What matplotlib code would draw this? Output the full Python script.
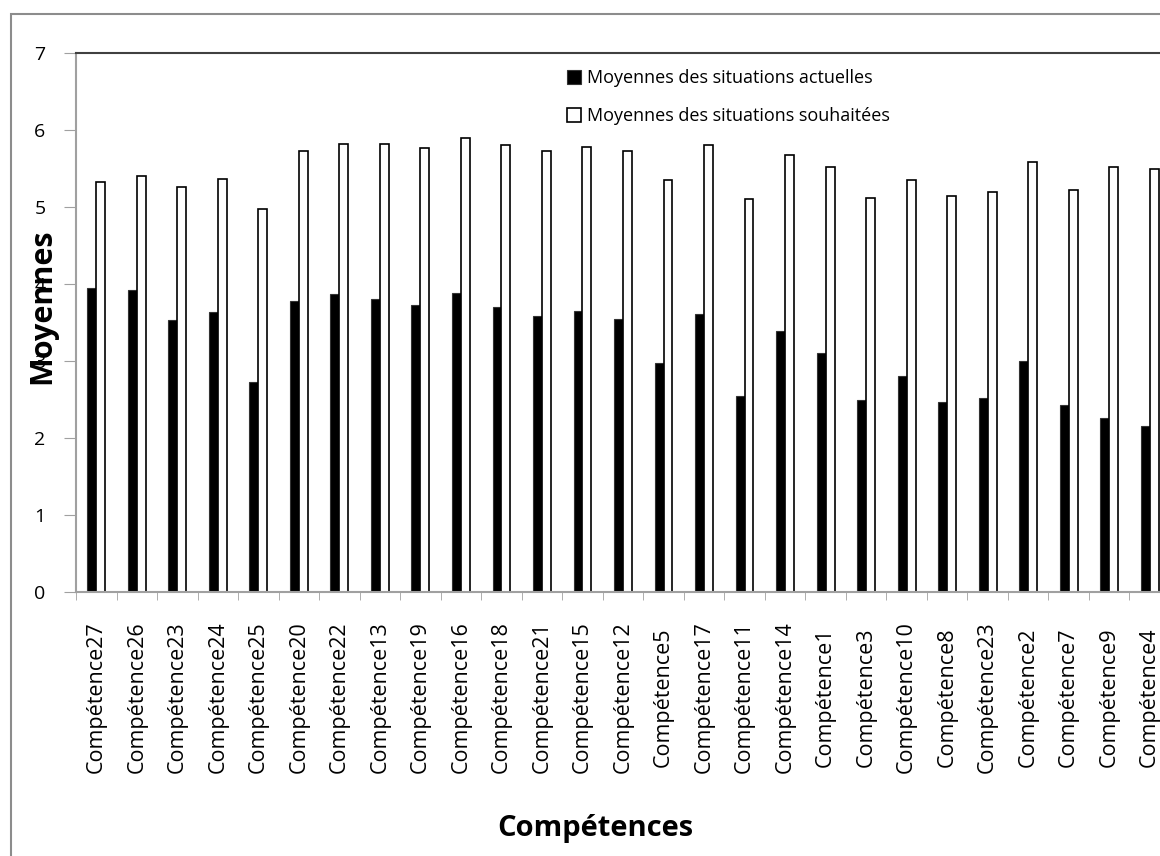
import numpy as np
import matplotlib.pyplot as plt
from matplotlib.patches import Rectangle

plt.rcParams['font.family'] = ['Open Sans', 'DejaVu Sans']

competences = ['Compétence27', 'Compétence26', 'Compétence23', 'Compétence24', 'Compétence25',
               'Compétence20', 'Compétence22', 'Compétence13', 'Compétence19', 'Compétence16',
               'Compétence18', 'Compétence21', 'Compétence15', 'Compétence12', 'Compétence5',
               'Compétence17', 'Compétence11', 'Compétence14', 'Compétence1', 'Compétence3',
               'Compétence10', 'Compétence8', 'Compétence23', 'Compétence2', 'Compétence7',
               'Compétence9', 'Compétence4']
actuelles = [3.95, 3.92, 3.53, 3.63, 2.73, 3.78, 3.87, 3.81, 3.73, 3.88,
             3.70, 3.58, 3.65, 3.54, 2.98, 3.61, 2.55, 3.39, 3.11, 2.49,
             2.81, 2.47, 2.52, 3.00, 2.43, 2.26, 2.16]
souhaitees = [5.33, 5.40, 5.26, 5.36, 4.97, 5.73, 5.82, 5.82, 5.76, 5.90,
              5.81, 5.73, 5.78, 5.73, 5.35, 5.80, 5.10, 5.67, 5.52, 5.12,
              5.35, 5.14, 5.19, 5.59, 5.22, 5.52, 5.50]

fig = plt.figure(figsize=(11.6, 8.56), dpi=100)
# cadre du graphique (coupé à droite et en bas)
fig.patches.append(Rectangle((11 / 1160, -0.1), 1.2, 1 - 14 / 856 + 0.1,
                             transform=fig.transFigure, fill=False,
                             edgecolor='#8c8c8c', linewidth=1.5))

ax = fig.add_axes([76 / 1160, 1 - 592 / 856, 1094 / 1160, 539 / 856])
x = np.arange(len(competences)) + 0.5
w = 0.22
ax.bar(x - w / 2, actuelles, w, color='black', edgecolor='#333333', linewidth=0.8,
       label='Moyennes des situations actuelles')
ax.bar(x + w / 2, souhaitees, w, color='white', edgecolor='black', linewidth=1.2,
       label='Moyennes des situations souhaitées')

ax.set_xlim(0, len(competences))
ax.set_ylim(0, 7)
ax.set_yticks(range(8))
ax.tick_params(axis='y', length=9, color='#a0a0a0', pad=13, labelsize=14)

ax.set_xticks(x)
ax.set_xticklabels(competences, rotation=90, fontsize=15.5)
ax.set_xticks(np.arange(len(competences) + 1), minor=True)
ax.tick_params(axis='x', which='major', length=0, pad=76)
ax.tick_params(axis='x', which='minor', length=6, color='#a0a0a0')
plt.setp(ax.get_xticklabels(), va='center')

ax.spines['right'].set_visible(False)
ax.spines['top'].set_color('#404040')
ax.spines['top'].set_linewidth(1.5)
ax.spines['left'].set_color('#a0a0a0')
ax.spines['left'].set_linewidth(1.5)
ax.spines['bottom'].set_color('#a0a0a0')
ax.spines['bottom'].set_linewidth(1.5)

ax.set_ylabel('Moyennes', fontsize=22, fontweight='bold', va='center')
ax.yaxis.set_label_coords(-0.031, 0.53)
ax.set_xlabel('Compétences', fontsize=21, fontweight='bold')
ax.xaxis.set_label_coords(0.475, -0.438)
ax.xaxis.label.set_va('center')

ax.legend(loc='upper left', bbox_to_anchor=(0.434, 1.0), frameon=False, fontsize=13,
          handlelength=0.8, handleheight=0.8, handletextpad=0.3, labelspacing=1.1)

fig.savefig('out.png', dpi=100, facecolor='white')
